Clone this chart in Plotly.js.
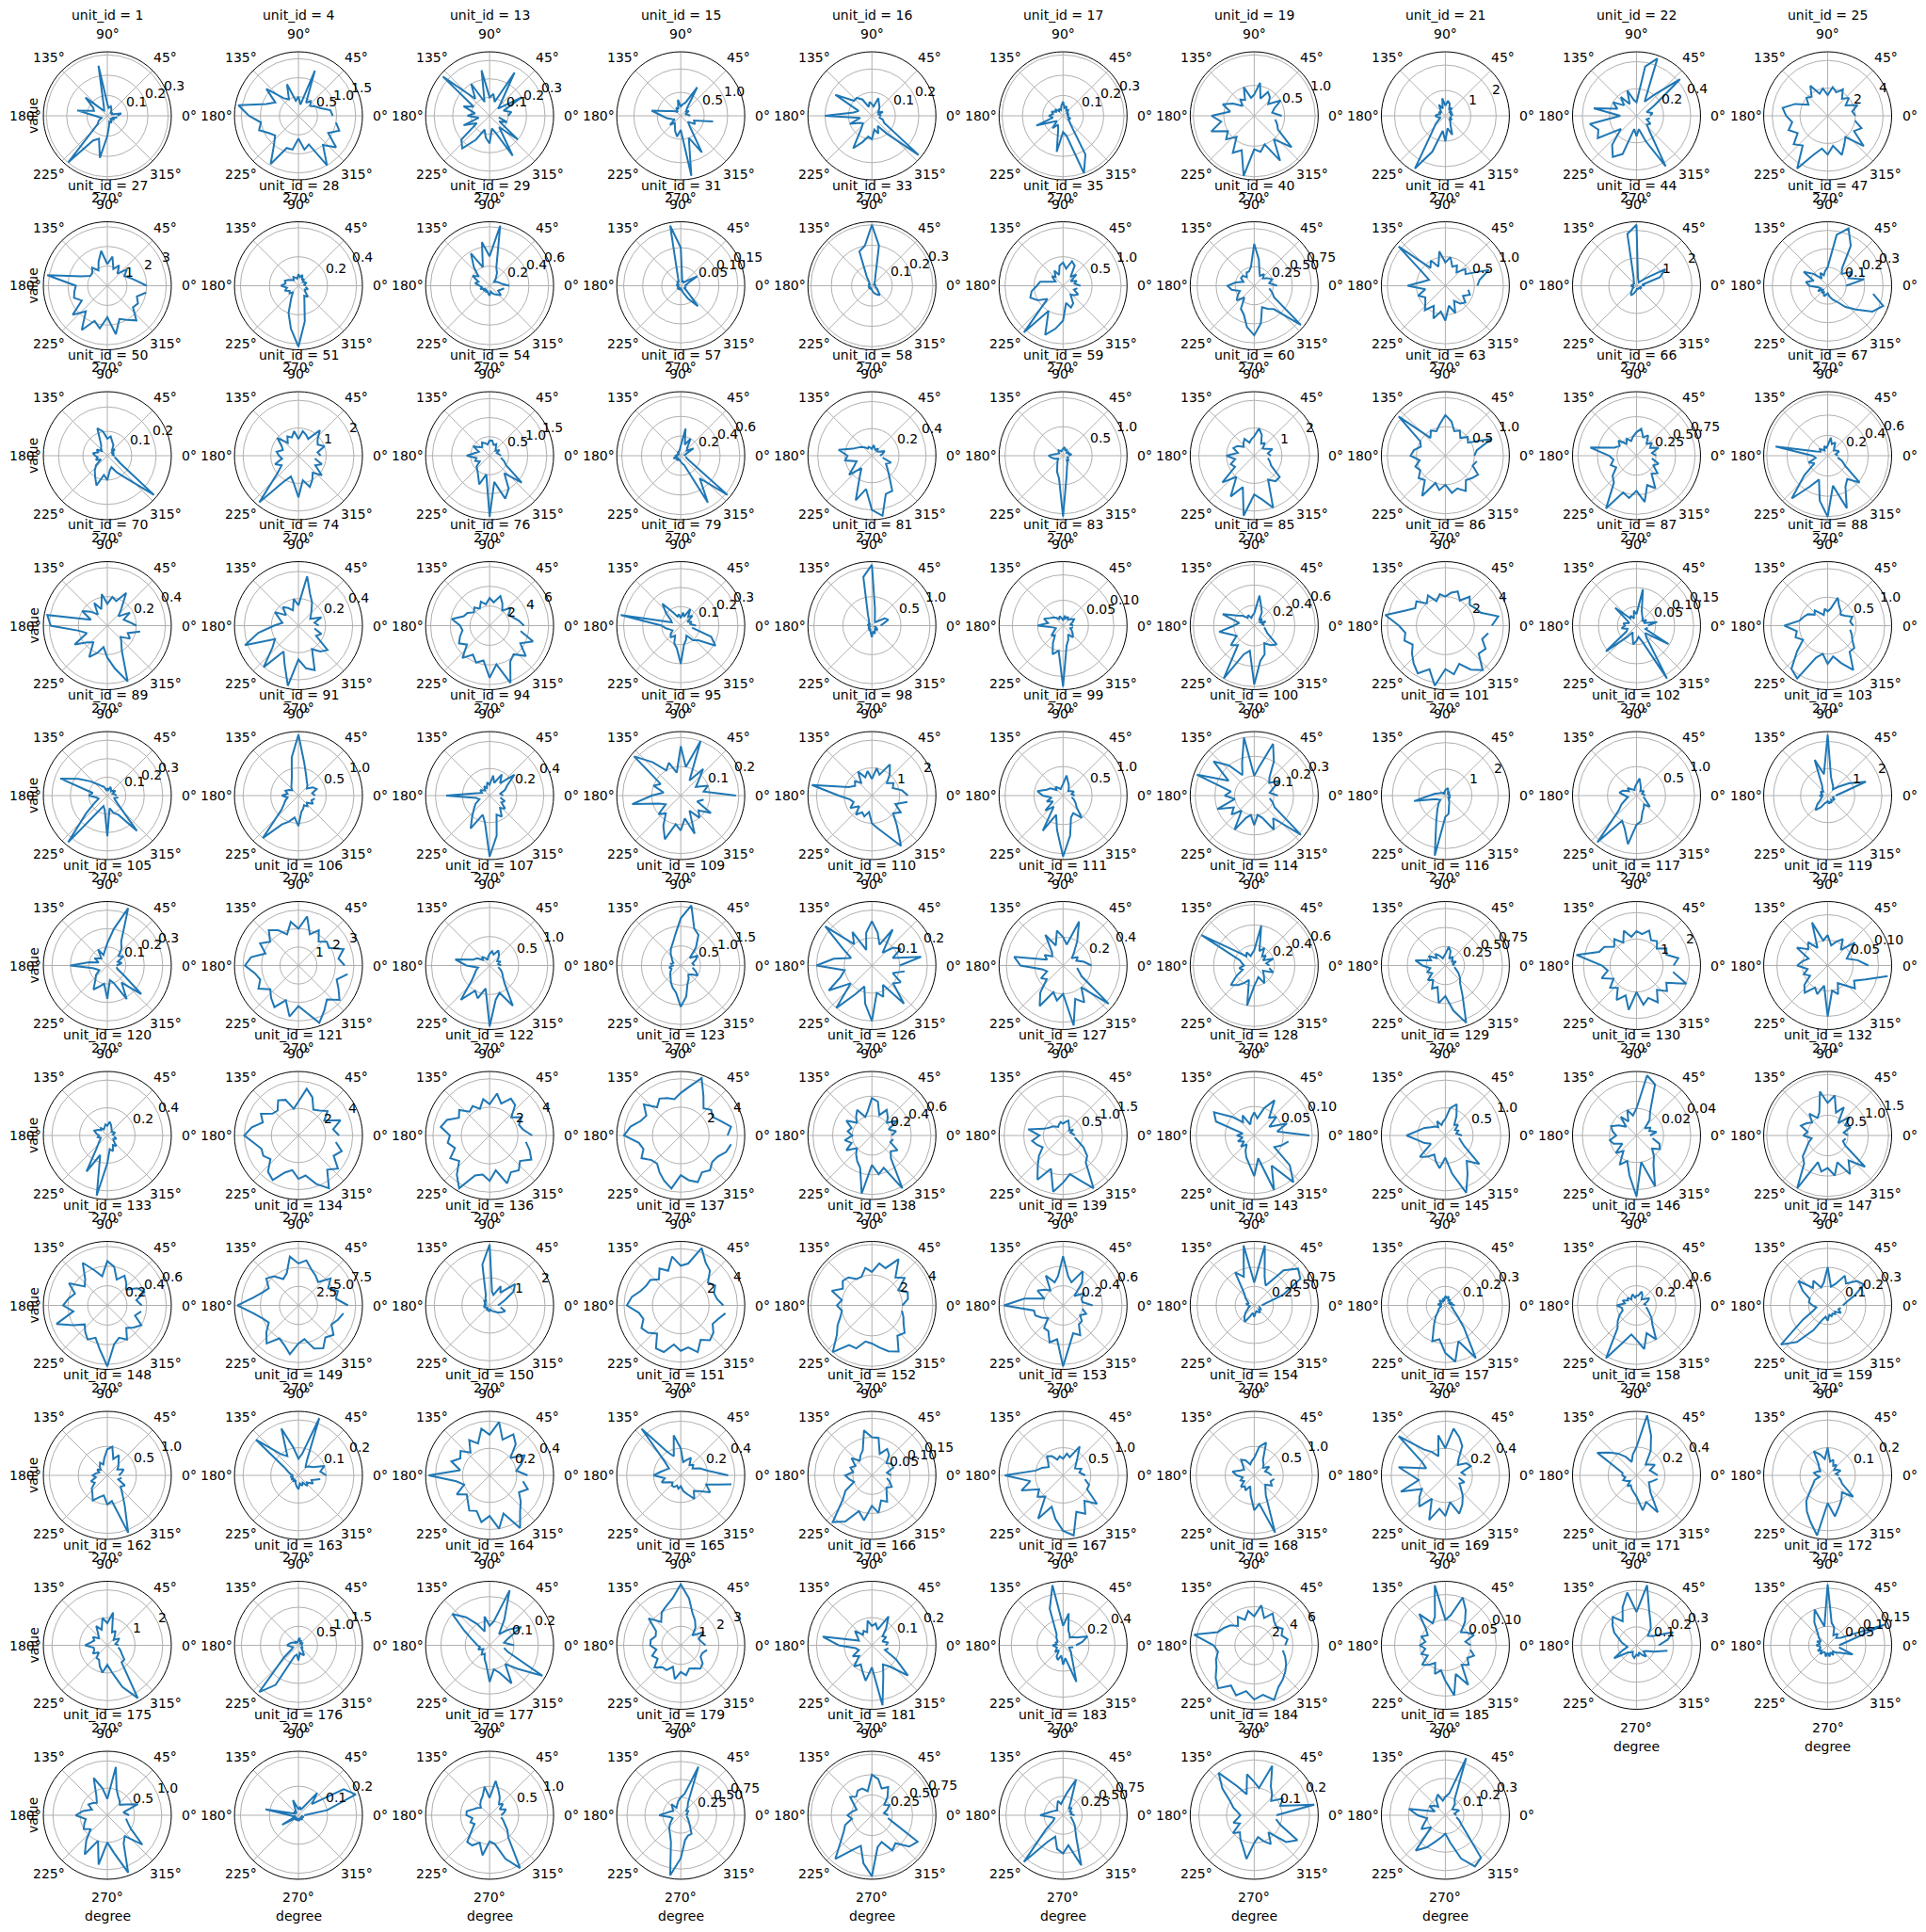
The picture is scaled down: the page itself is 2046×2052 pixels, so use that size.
<!DOCTYPE html>
<html><head><meta charset="utf-8">
<script src="https://cdn.plot.ly/plotly-3.0.1.min.js"></script>
<style>html,body{margin:0;padding:0;background:#fff;}#chart{width:2046px;height:2052px;}</style>
</head><body><div id="chart"></div>
<script>
const unitIds=[1,4,13,15,16,17,19,21,22,25,27,28,29,31,33,35,40,41,44,47,50,51,54,57,58,59,60,63,66,67,70,74,76,79,81,83,85,86,87,88,89,91,94,95,98,99,100,101,102,103,105,106,107,109,110,111,114,116,117,119,120,121,122,123,126,127,128,129,130,132,133,134,136,137,138,139,143,145,146,147,148,149,150,151,152,153,154,157,158,159,162,163,164,165,166,167,168,169,171,172,175,176,177,179,181,183,184,185];
const degrees=[0,10,20,30,40,50,60,70,80,90,100,110,120,130,140,150,160,170,180,190,200,210,220,230,240,250,260,270,280,290,300,310,320,330,340,350];
const angleTickVals=[0,45,90,135,180,225,270,315];
const angleTickText=["0°","45°","90°","135°","180°","225°","270°","315°"];
const radialTicks=[
["0.1","0.2","0.3"],["0.5","1.0","1.5"],["0.1","0.2","0.3"],["0.5","1.0"],["0.1","0.2"],["0.1","0.2","0.3"],["0.5","1.0"],["1","2"],["0.2","0.4"],["2","4"],
["1","2","3"],["0.2","0.4"],["0.2","0.4","0.6"],["0.05","0.10","0.15"],["0.1","0.2","0.3"],["0.5","1.0"],["0.25","0.50","0.75"],["0.5","1.0"],["1","2"],["0.1","0.2","0.3"],
["0.1","0.2"],["1","2"],["0.5","1.0","1.5"],["0.2","0.4","0.6"],["0.2","0.4"],["0.5","1.0"],["1","2"],["0.5","1.0"],["0.25","0.50","0.75"],["0.2","0.4","0.6"],
["0.2","0.4"],["0.2","0.4"],["2","4","6"],["0.1","0.2","0.3"],["0.5","1.0"],["0.05","0.10"],["0.2","0.4","0.6"],["2","4"],["0.05","0.10","0.15"],["0.5","1.0"],
["0.1","0.2","0.3"],["0.5","1.0"],["0.2","0.4"],["0.1","0.2"],["1","2"],["0.5","1.0"],["0.1","0.2","0.3"],["1","2"],["0.5","1.0"],["1","2"],
["0.1","0.2","0.3"],["1","2","3"],["0.5","1.0"],["0.5","1.0","1.5"],["0.1","0.2"],["0.2","0.4"],["0.2","0.4","0.6"],["0.25","0.50","0.75"],["1","2"],["0.05","0.10"],
["0.2","0.4"],["2","4"],["2","4"],["2","4"],["0.2","0.4","0.6"],["0.5","1.0","1.5"],["0.05","0.10"],["0.5","1.0"],["0.02","0.04"],["0.5","1.0","1.5"],
["0.2","0.4","0.6"],["2.5","5.0","7.5"],["1","2"],["2","4"],["2","4"],["0.2","0.4","0.6"],["0.25","0.50","0.75"],["0.1","0.2","0.3"],["0.2","0.4","0.6"],["0.1","0.2","0.3"],
["0.5","1.0"],["0.1","0.2"],["0.2","0.4"],["0.2","0.4"],["0.05","0.10","0.15"],["0.5","1.0"],["0.5","1.0"],["0.2","0.4"],["0.2","0.4"],["0.1","0.2"],
["1","2"],["0.5","1.0","1.5"],["0.1","0.2"],["1","2","3"],["0.1","0.2"],["0.2","0.4"],["2","4","6"],["0.05","0.10"],["0.1","0.2","0.3"],["0.05","0.10","0.15"],
["0.5","1.0"],["0.1","0.2"],["0.5","1.0"],["0.25","0.50","0.75"],["0.25","0.50","0.75"],["0.25","0.50","0.75"],["0.1","0.2"],["0.1","0.2","0.3"]];

const u1=[0.05,0.07,0.02,0.03,0.02,0.03,0.04,0.05,0.04,0.06,0.25,0.05,0.03,0.04,0.14,0.08,0.07,0.15,0.06,0.04,0.03,0.05,0.06,0.30,0.14,0.12,0.21,0.10,0.05,0.03,0.04,0.03,0.02,0.04,0.03,0.05];
const u4=[0.9,0.85,0.6,0.5,0.4,0.5,0.4,1.26,0.3,0.5,0.4,0.88,0.5,0.6,1.1,0.7,0.9,1.6,1.3,1.0,1.1,0.9,0.8,1.0,1.46,0.9,0.9,0.6,0.9,0.8,1.5,1.0,1.29,0.9,1.14,1.0];
const u13=[0.10,0.12,0.08,0.20,0.06,0.10,0.27,0.08,0.12,0.10,0.25,0.08,0.20,0.12,0.33,0.10,0.15,0.08,0.12,0.06,0.15,0.08,0.20,0.23,0.15,0.08,0.12,0.15,0.07,0.10,0.25,0.08,0.20,0.06,0.10,0.05];
const u15=[0.2,0.15,0.1,0.2,0.15,0.2,0.7,0.3,0.25,0.2,0.35,0.15,0.2,0.1,0.15,0.2,0.3,0.63,0.4,0.3,0.2,0.15,0.3,0.2,0.25,0.35,0.45,0.3,1.3,0.5,0.9,0.3,0.2,0.35,0.3,0.7];
const u16=[0.04,0.03,0.05,0.03,0.04,0.05,0.06,0.08,0.04,0.05,0.06,0.04,0.08,0.10,0.10,0.18,0.06,0.08,0.20,0.05,0.10,0.06,0.05,0.07,0.16,0.12,0.09,0.10,0.06,0.08,0.05,0.10,0.26,0.06,0.05,0.03];
const u17=[0.03,0.02,0.03,0.02,0.03,0.04,0.03,0.05,0.04,0.07,0.05,0.03,0.04,0.03,0.05,0.04,0.06,0.05,0.07,0.05,0.14,0.06,0.04,0.08,0.05,0.07,0.18,0.08,0.10,0.30,0.22,0.06,0.04,0.03,0.04,0.02];
const u19=[0.45,0.3,0.35,0.5,0.3,0.4,0.45,0.3,0.55,0.35,0.3,0.5,0.3,0.35,0.25,0.4,0.55,0.4,0.7,0.55,0.75,0.5,0.6,0.45,0.7,0.6,1.0,0.55,0.6,0.5,0.85,0.5,0.8,0.45,0.4,0.35];
const u21=[0.2,0.3,0.2,0.3,0.2,0.4,0.3,0.5,0.6,0.4,0.7,0.3,0.5,0.3,0.2,0.3,0.2,0.3,0.4,0.3,0.2,0.3,0.5,0.8,2.4,1.5,0.6,1.0,0.5,0.8,0.4,0.3,0.2,0.3,0.2,0.25];
const u22=[0.1,0.12,0.08,0.15,0.42,0.2,0.12,0.45,0.37,0.1,0.12,0.2,0.1,0.18,0.12,0.2,0.15,0.32,0.12,0.35,0.3,0.33,0.15,0.28,0.35,0.3,0.1,0.15,0.1,0.2,0.43,0.15,0.1,0.12,0.08,0.1];
const u25=[2.0,1.8,2.3,1.5,2.0,1.6,2.2,1.8,2.1,1.5,2.0,1.7,2.5,1.8,2.0,1.6,2.5,3.3,3.0,2.6,3.0,2.5,3.2,2.8,4.4,3.0,2.4,2.8,2.2,3.0,2.4,2.0,3.4,2.2,2.6,2.0];
const u27=[2.0,1.5,1.2,1.0,1.3,0.8,1.2,0.9,1.5,1.1,1.8,1.3,0.9,1.2,1.0,1.0,1.4,3.1,1.6,1.7,1.8,1.5,2.3,1.7,2.6,1.9,2.2,1.6,2.5,1.8,2.0,2.3,1.7,1.8,1.6,2.0];
const u28=[0.05,0.04,0.06,0.05,0.04,0.06,0.05,0.08,0.06,0.08,0.05,0.06,0.07,0.05,0.06,0.08,0.10,0.09,0.12,0.08,0.10,0.07,0.08,0.06,0.10,0.20,0.30,0.42,0.25,0.12,0.08,0.10,0.06,0.05,0.07,0.05];
const u29=[0.2,0.12,0.1,0.08,0.06,0.1,0.15,0.2,0.62,0.3,0.45,0.2,0.38,0.25,0.15,0.2,0.12,0.15,0.1,0.08,0.1,0.06,0.08,0.05,0.07,0.06,0.08,0.1,0.06,0.08,0.1,0.12,0.15,0.1,0.12,0.15];
const u31=[0.01,0.015,0.02,0.05,0.02,0.01,0.015,0.01,0.02,0.1,0.16,0.02,0.01,0.015,0.01,0.01,0.005,0.01,0.01,0.005,0.01,0.005,0.01,0.01,0.005,0.01,0.01,0.005,0.01,0.02,0.04,0.07,0.02,0.01,0.015,0.01];
const u33=[0.02,0.015,0.02,0.01,0.015,0.02,0.03,0.05,0.2,0.30,0.2,0.18,0.05,0.02,0.015,0.01,0.02,0.01,0.015,0.01,0.02,0.01,0.015,0.02,0.01,0.02,0.015,0.02,0.03,0.04,0.05,0.06,0.04,0.03,0.02,0.015];
const u35=[0.3,0.2,0.25,0.15,0.3,0.2,0.4,0.45,0.3,0.4,0.35,0.2,0.3,0.2,0.25,0.15,0.2,0.4,0.45,0.55,0.6,0.5,0.35,1.05,0.5,0.9,0.75,0.6,0.3,0.4,0.35,0.2,0.25,0.3,0.2,0.25];
const u40=[0.3,0.2,0.25,0.2,0.15,0.2,0.15,0.2,0.35,0.55,0.25,0.2,0.2,0.15,0.2,0.2,0.15,0.25,0.35,0.3,0.2,0.25,0.3,0.2,0.35,0.4,0.55,0.65,0.5,0.3,0.35,0.4,0.8,0.3,0.25,0.2];
const u41=[0.55,0.6,0.8,0.4,0.45,0.3,0.4,0.35,0.5,0.4,0.6,0.35,0.5,0.4,1.05,0.45,0.3,0.4,0.65,0.35,0.5,0.4,0.45,0.55,0.4,0.6,0.45,0.6,0.35,0.5,0.3,0.4,0.45,0.35,0.45,0.4];
const u44=[0.3,0.2,0.9,1.2,0.4,0.2,0.15,0.2,0.3,2.2,1.9,0.3,0.2,0.15,0.1,0.15,0.1,0.15,0.2,0.15,0.1,0.15,0.2,0.3,0.4,0.3,0.2,0.15,0.1,0.15,0.1,0.15,0.1,0.2,0.15,0.2];
const u47=[0.1,0.2,0.12,0.15,0.1,0.12,0.25,0.33,0.28,0.1,0.08,0.06,0.08,0.05,0.1,0.15,0.08,0.12,0.1,0.05,0.04,0.06,0.03,0.05,0.04,0.06,0.05,0.04,0.06,0.08,0.1,0.15,0.2,0.28,0.32,0.25];
const u50=[0.03,0.02,0.03,0.02,0.04,0.03,0.05,0.06,0.08,0.07,0.10,0.12,0.05,0.04,0.03,0.05,0.04,0.06,0.05,0.04,0.05,0.03,0.06,0.08,0.10,0.13,0.08,0.10,0.06,0.05,0.08,0.12,0.25,0.06,0.04,0.03];
const u51=[0.8,0.7,1.0,0.8,0.9,1.2,0.7,0.8,0.9,0.6,0.9,0.7,0.8,0.6,1.0,0.7,0.6,0.8,0.7,0.6,0.9,0.7,1.0,2.2,1.1,0.8,1.0,1.5,0.9,1.2,1.0,0.8,1.1,0.7,0.9,0.6];
const u54=[0.3,0.25,0.2,0.3,0.2,0.25,0.35,0.3,0.4,0.4,0.3,0.35,0.4,0.3,0.35,0.5,0.3,0.4,0.6,0.35,0.4,0.3,0.45,0.5,0.6,0.8,0.5,1.6,0.7,1.2,1.0,0.6,1.1,0.5,0.4,0.3];
const u57=[0.05,0.04,0.06,0.15,0.08,0.1,0.2,0.12,0.28,0.1,0.06,0.05,0.04,0.05,0.03,0.04,0.03,0.04,0.05,0.04,0.08,0.05,0.04,0.06,0.05,0.04,0.05,0.06,0.08,0.1,0.55,0.3,0.62,0.1,0.06,0.05];
const u58=[0.06,0.08,0.1,0.06,0.05,0.07,0.05,0.06,0.08,0.05,0.06,0.07,0.06,0.08,0.1,0.12,0.15,0.25,0.18,0.2,0.12,0.15,0.22,0.12,0.18,0.35,0.25,0.4,0.45,0.3,0.3,0.2,0.15,0.12,0.15,0.08];
const u59=[0.1,0.15,0.1,0.12,0.08,0.1,0.12,0.1,0.15,0.12,0.1,0.08,0.1,0.12,0.1,0.08,0.1,0.15,0.25,0.2,0.15,0.1,0.12,0.15,0.2,0.3,0.4,1.05,0.35,0.2,0.15,0.1,0.12,0.1,0.08,0.1];
const u60=[0.6,0.5,0.7,0.5,0.4,0.6,0.5,0.8,1.0,0.7,0.6,0.5,0.7,0.6,0.5,0.7,0.8,0.6,1.0,0.7,0.9,0.8,1.5,1.0,1.7,1.2,2.2,1.4,1.6,2.0,1.0,1.2,1.2,0.7,0.6,0.5];
const u63=[0.5,0.55,0.85,0.45,0.5,0.4,0.5,0.45,0.6,0.7,0.55,0.45,0.5,0.4,1.05,0.5,0.45,0.55,0.6,0.45,0.55,0.5,0.6,0.55,0.8,0.5,0.6,0.5,0.65,0.6,0.7,0.55,0.6,0.65,0.5,0.55];
const u66=[0.25,0.2,0.3,0.2,0.25,0.2,0.3,0.25,0.35,0.3,0.25,0.2,0.25,0.2,0.3,0.25,0.3,0.6,0.35,0.3,0.35,0.3,0.4,0.45,0.78,0.5,0.55,0.45,0.6,0.4,0.48,0.3,0.35,0.25,0.3,0.2];
const u67=[0.1,0.08,0.12,0.1,0.08,0.1,0.15,0.12,0.18,0.1,0.08,0.1,0.06,0.08,0.1,0.08,0.12,0.52,0.15,0.12,0.2,0.15,0.3,0.55,0.35,0.25,0.45,0.6,0.3,0.55,0.35,0.3,0.41,0.2,0.15,0.1];
const u70=[0.2,0.15,0.12,0.18,0.1,0.15,0.26,0.18,0.2,0.15,0.22,0.12,0.18,0.1,0.15,0.2,0.12,0.42,0.39,0.2,0.15,0.26,0.18,0.15,0.25,0.2,0.15,0.22,0.3,0.41,0.2,0.15,0.12,0.18,0.15,0.23];
const u74=[0.15,0.12,0.18,0.1,0.12,0.15,0.2,0.25,0.37,0.15,0.2,0.12,0.15,0.18,0.12,0.2,0.15,0.12,0.18,0.3,0.42,0.2,0.25,0.4,0.22,0.3,0.45,0.25,0.32,0.35,0.2,0.25,0.28,0.15,0.18,0.12];
const u76=[3.5,3.0,2.5,2.2,2.8,2.0,2.6,3.2,2.4,2.8,2.2,2.6,2.0,2.4,2.1,2.6,2.8,3.9,3.0,2.8,3.2,3.6,3.0,4.3,3.4,4.0,3.6,5.3,4.0,6.2,4.2,3.8,4.8,3.6,4.7,3.2];
const u79=[0.08,0.05,0.06,0.04,0.08,0.06,0.1,0.05,0.07,0.04,0.06,0.05,0.08,0.15,0.1,0.06,0.05,0.32,0.1,0.08,0.06,0.05,0.07,0.08,0.06,0.1,0.12,0.2,0.1,0.08,0.06,0.1,0.12,0.21,0.17,0.06];
const u81=[0.15,0.2,0.3,0.25,0.1,0.08,0.1,0.15,0.3,1.05,0.85,0.2,0.1,0.08,0.05,0.06,0.05,0.08,0.06,0.05,0.04,0.06,0.08,0.05,0.1,0.08,0.12,0.2,0.1,0.15,0.1,0.08,0.12,0.1,0.06,0.08];
const u83=[0.02,0.015,0.02,0.025,0.02,0.015,0.02,0.015,0.02,0.01,0.015,0.02,0.015,0.02,0.025,0.03,0.04,0.03,0.05,0.02,0.015,0.02,0.03,0.025,0.04,0.06,0.05,0.12,0.04,0.03,0.02,0.03,0.025,0.02,0.015,0.02];
const u85=[0.1,0.08,0.12,0.06,0.1,0.08,0.15,0.2,0.3,0.12,0.1,0.08,0.12,0.1,0.15,0.2,0.33,0.15,0.2,0.35,0.25,0.2,0.3,0.25,0.6,0.3,0.25,0.58,0.35,0.3,0.2,0.25,0.29,0.15,0.12,0.1];
const u86=[3.2,3.7,2.6,2.4,2.2,2.6,2.0,2.5,2.3,2.0,2.2,1.8,2.4,2.0,2.6,2.4,3.0,4.2,3.2,2.8,3.0,2.6,3.0,3.4,3.8,3.2,4.2,3.0,3.4,2.8,3.5,4.0,3.0,3.2,2.7,3.0];
const u87=[0.03,0.055,0.02,0.03,0.02,0.025,0.03,0.04,0.097,0.03,0.04,0.02,0.03,0.025,0.073,0.03,0.02,0.035,0.03,0.04,0.025,0.03,0.105,0.04,0.02,0.03,0.05,0.04,0.03,0.045,0.16,0.04,0.03,0.097,0.025,0.03];
const u88=[0.45,0.4,0.46,0.35,0.3,0.35,0.4,0.52,0.3,0.25,0.3,0.2,0.25,0.35,0.3,0.4,0.45,0.5,0.76,0.55,0.6,0.5,0.7,0.99,1.07,0.6,0.5,0.67,0.55,0.7,0.9,0.6,0.61,0.5,0.45,0.4];
const u89=[0.05,0.04,0.03,0.05,0.04,0.03,0.04,0.05,0.03,0.04,0.03,0.05,0.06,0.08,0.12,0.18,0.27,0.08,0.1,0.06,0.05,0.08,0.15,0.33,0.1,0.06,0.08,0.22,0.07,0.1,0.12,0.25,0.08,0.05,0.04,0.06];
const u91=[0.3,0.25,0.35,0.3,0.2,0.25,0.3,0.4,0.6,1.1,0.7,0.35,0.25,0.2,0.15,0.2,0.25,0.2,0.3,0.2,0.25,0.3,0.4,1.0,0.6,0.5,0.4,0.55,0.3,0.25,0.2,0.25,0.2,0.3,0.25,0.3];
const u94=[0.1,0.08,0.12,0.15,0.24,0.12,0.18,0.1,0.15,0.08,0.1,0.06,0.08,0.05,0.06,0.08,0.06,0.1,0.32,0.1,0.08,0.12,0.15,0.2,0.28,0.15,0.2,0.45,0.3,0.15,0.18,0.12,0.15,0.1,0.12,0.08];
const u95=[0.19,0.08,0.1,0.06,0.08,0.12,0.06,0.2,0.1,0.17,0.08,0.12,0.1,0.15,0.21,0.08,0.1,0.06,0.1,0.17,0.08,0.06,0.1,0.08,0.12,0.16,0.1,0.12,0.08,0.14,0.06,0.1,0.08,0.12,0.06,0.08];
const u98=[1.3,1.1,0.8,0.9,0.7,1.0,1.3,0.8,1.0,0.6,0.9,0.7,1.0,0.6,0.8,0.7,0.9,2.2,1.2,0.8,0.7,0.9,0.6,0.9,0.7,0.8,0.6,1.0,1.2,1.5,2.1,1.4,1.0,1.2,0.9,1.3];
const u99=[0.2,0.15,0.2,0.15,0.12,0.15,0.2,0.25,0.35,0.2,0.15,0.12,0.15,0.2,0.15,0.25,0.3,0.45,0.35,0.2,0.3,0.2,0.4,0.25,0.7,0.35,0.6,1.05,0.7,0.4,0.35,0.5,0.3,0.25,0.2,0.15];
const u100=[0.12,0.08,0.1,0.15,0.1,0.12,0.2,0.28,0.15,0.1,0.3,0.18,0.12,0.2,0.27,0.15,0.31,0.12,0.15,0.1,0.2,0.12,0.15,0.1,0.2,0.12,0.1,0.15,0.1,0.12,0.2,0.15,0.31,0.12,0.1,0.08];
const u101=[0.2,0.15,0.1,0.15,0.2,0.15,0.2,0.3,0.25,0.2,0.15,0.1,0.12,0.1,0.15,0.2,0.25,0.4,0.6,1.2,0.4,0.3,0.25,0.4,0.6,1.0,2.3,0.8,0.7,0.4,0.3,0.2,0.15,0.2,0.15,0.2];
const u102=[0.15,0.12,0.1,0.15,0.12,0.1,0.15,0.2,0.3,0.2,0.15,0.1,0.12,0.15,0.2,0.15,0.25,0.3,0.2,0.15,0.2,0.3,0.4,1.05,0.5,0.6,0.85,0.5,0.45,0.3,0.25,0.2,0.3,0.2,0.15,0.12];
const u103=[0.3,0.5,1.5,0.9,0.5,0.3,0.4,0.5,0.7,2.25,0.8,1.4,0.4,0.3,0.2,0.3,0.25,0.2,0.3,0.2,0.25,0.3,0.5,0.7,0.5,0.3,0.25,0.2,0.3,0.25,0.3,0.2,0.25,0.3,0.2,0.25];
const u105=[0.05,0.08,0.06,0.1,0.08,0.12,0.15,0.33,0.2,0.12,0.08,0.06,0.1,0.05,0.06,0.08,0.05,0.1,0.2,0.08,0.06,0.05,0.08,0.1,0.15,0.12,0.1,0.18,0.08,0.1,0.21,0.12,0.24,0.1,0.06,0.05];
const u106=[2.5,2.2,2.6,1.9,2.0,1.7,2.2,1.8,2.7,2.0,2.4,1.8,2.2,2.5,2.0,2.4,1.9,2.6,2.9,2.4,2.2,2.5,2.0,2.3,2.6,2.0,2.8,2.2,2.6,3.3,2.8,2.4,2.9,2.5,2.2,2.7];
const u107=[0.2,0.15,0.2,0.15,0.2,0.25,0.3,0.2,0.25,0.2,0.15,0.1,0.15,0.2,0.15,0.25,0.3,0.6,0.4,0.2,0.25,0.3,0.4,0.77,0.5,0.6,0.4,1.05,0.6,0.5,0.8,0.4,0.3,0.25,0.2,0.15];
const u109=[0.35,0.3,0.4,0.5,0.3,0.6,0.9,1.0,1.55,1.2,0.8,0.6,0.5,0.4,0.3,0.25,0.2,0.25,0.2,0.3,0.25,0.3,0.35,0.4,0.5,0.6,0.7,1.05,0.8,0.5,0.4,0.3,0.35,0.5,0.4,0.3];
const u110=[0.1,0.18,0.08,0.12,0.1,0.06,0.15,0.08,0.12,0.16,0.12,0.06,0.14,0.1,0.22,0.12,0.08,0.14,0.2,0.1,0.12,0.18,0.1,0.2,0.12,0.08,0.14,0.2,0.1,0.12,0.08,0.18,0.1,0.12,0.08,0.12];
const u111=[0.2,0.15,0.1,0.12,0.08,0.12,0.2,0.33,0.15,0.2,0.25,0.15,0.25,0.12,0.1,0.15,0.12,0.35,0.3,0.15,0.12,0.18,0.15,0.25,0.33,0.2,0.25,0.2,0.43,0.25,0.3,0.2,0.42,0.15,0.12,0.1];
const u114=[0.15,0.12,0.2,0.1,0.15,0.12,0.2,0.15,0.4,0.15,0.12,0.1,0.15,0.12,0.2,0.6,0.15,0.12,0.1,0.15,0.12,0.2,0.3,0.25,0.2,0.15,0.4,0.2,0.15,0.12,0.2,0.15,0.12,0.1,0.2,0.15];
const u116=[0.12,0.1,0.15,0.1,0.12,0.15,0.1,0.2,0.25,0.15,0.12,0.1,0.15,0.2,0.15,0.25,0.2,0.4,0.3,0.2,0.25,0.2,0.3,0.25,0.35,0.3,0.5,0.4,0.6,0.8,0.45,0.3,0.25,0.2,0.15,0.12];
const u117=[1.4,1.6,1.2,1.3,1.0,1.2,1.1,1.4,1.2,1.3,1.1,1.4,1.0,1.3,1.1,1.4,1.5,2.3,1.3,1.1,1.4,1.0,1.3,1.1,1.5,1.2,1.7,1.0,1.5,1.3,1.6,1.2,1.5,1.3,2.0,1.4];
const u119=[0.08,0.06,0.04,0.05,0.07,0.04,0.06,0.05,0.04,0.06,0.05,0.09,0.04,0.06,0.05,0.07,0.04,0.05,0.06,0.04,0.05,0.04,0.06,0.07,0.05,0.06,0.04,0.1,0.05,0.06,0.04,0.05,0.07,0.06,0.08,0.12];
const u120=[0.05,0.04,0.06,0.05,0.04,0.05,0.06,0.08,0.1,0.07,0.08,0.06,0.05,0.07,0.06,0.08,0.1,0.08,0.06,0.07,0.05,0.06,0.08,0.12,0.3,0.15,0.44,0.2,0.1,0.12,0.08,0.1,0.06,0.05,0.07,0.05];
const u121=[3.0,2.6,3.3,2.2,2.8,2.4,2.2,3.0,3.5,2.5,2.0,2.8,3.0,2.4,2.5,3.2,2.8,3.5,4.0,3.3,2.9,3.0,2.7,3.5,3.8,2.9,2.6,3.2,3.0,3.8,4.5,3.3,3.8,3.0,3.4,2.8];
const u122=[3.0,2.4,2.2,2.6,2.0,2.8,3.0,2.4,3.0,2.2,2.6,2.0,2.4,2.2,2.8,2.5,3.2,3.5,2.8,3.0,2.6,3.2,2.8,3.6,4.3,3.0,2.8,3.2,2.5,3.6,3.0,3.2,2.8,3.4,3.0,2.6];
const u123=[3.3,3.6,3.0,2.6,2.8,2.5,3.2,4.3,3.5,3.0,2.6,2.8,3.0,2.6,3.4,2.8,3.0,3.6,4.0,3.0,2.8,3.2,2.7,2.6,3.0,3.4,3.8,2.8,3.2,3.5,3.0,3.2,2.9,3.0,3.4,3.6];
const u126=[0.2,0.25,0.18,0.3,0.2,0.25,0.3,0.22,0.35,0.38,0.25,0.2,0.3,0.25,0.2,0.3,0.22,0.25,0.2,0.28,0.22,0.3,0.2,0.25,0.3,0.35,0.6,0.3,0.4,0.35,0.62,0.3,0.25,0.3,0.2,0.22];
const u127=[0.3,0.25,0.2,0.3,0.2,0.25,0.3,0.4,0.35,0.3,0.35,0.3,0.25,0.3,0.35,0.4,0.5,0.9,0.6,0.8,0.7,0.6,0.8,1.0,1.3,0.9,1.45,1.2,1.0,1.2,1.55,0.9,0.8,0.6,0.4,0.3];
const u128=[0.095,0.04,0.06,0.03,0.05,0.04,0.07,0.05,0.03,0.04,0.03,0.02,0.04,0.03,0.05,0.08,0.07,0.02,0.03,0.02,0.03,0.02,0.03,0.02,0.03,0.04,0.05,0.07,0.04,0.1,0.06,0.105,0.08,0.04,0.05,0.06];
const u129=[0.3,0.2,0.25,0.2,0.3,0.25,0.4,0.6,0.5,0.3,0.25,0.2,0.3,0.2,0.25,0.3,0.4,0.5,0.7,0.5,0.4,0.3,0.6,0.5,0.4,0.5,0.6,0.4,0.7,1.1,0.8,0.6,0.8,0.4,0.3,0.25];
const u130=[0.01,0.015,0.01,0.012,0.008,0.015,0.02,0.04,0.045,0.02,0.015,0.02,0.012,0.018,0.01,0.015,0.02,0.018,0.015,0.02,0.018,0.012,0.02,0.015,0.025,0.02,0.03,0.045,0.02,0.04,0.025,0.02,0.015,0.02,0.018,0.012];
const u132=[0.5,0.4,0.6,0.5,0.7,0.4,0.8,0.6,1.0,0.8,1.1,0.6,0.5,0.7,0.5,0.6,0.7,0.5,0.6,0.4,0.5,0.6,0.8,0.9,1.5,0.7,0.9,0.8,1.0,0.7,1.1,0.8,1.2,0.5,0.4,0.45];
const u133=[0.35,0.3,0.4,0.35,0.25,0.3,0.35,0.28,0.4,0.45,0.3,0.38,0.5,0.35,0.3,0.45,0.35,0.4,0.45,0.35,0.55,0.4,0.3,0.35,0.4,0.35,0.45,0.62,0.4,0.35,0.4,0.3,0.35,0.4,0.3,0.35];
const u134=[6.5,5.0,5.5,4.5,5.5,4.0,4.5,5.0,6.0,5.5,6.5,4.5,4.0,5.0,5.5,4.5,5.0,6.0,8.0,6.0,5.0,4.5,5.5,6.5,5.0,5.5,6.5,5.0,4.5,6.0,6.5,5.5,6.0,5.0,5.5,6.0];
const u136=[0.3,0.4,0.6,1.0,1.2,0.6,0.8,0.4,0.5,2.2,1.5,0.4,0.3,0.2,0.25,0.2,0.15,0.2,0.15,0.2,0.2,0.15,0.1,0.15,0.2,0.15,0.2,0.2,0.15,0.2,0.25,0.3,0.4,0.5,0.6,0.4];
const u137=[3.0,2.6,2.5,2.8,2.5,3.2,3.5,4.3,3.0,2.8,3.5,2.6,3.0,2.4,2.8,2.8,3.0,3.5,3.8,3.0,2.8,3.2,3.0,2.6,3.5,3.5,2.8,3.2,3.0,3.5,2.8,3.2,3.0,2.6,2.8,3.2];
const u138=[2.0,2.4,2.5,2.0,2.8,2.4,3.5,2.6,2.8,2.2,2.5,2.0,2.0,2.4,2.5,2.2,2.8,2.0,2.3,2.0,2.2,2.6,3.0,4.0,3.0,3.0,2.4,2.5,2.8,3.2,3.5,2.6,2.8,2.4,2.2,2.0];
const u139=[0.3,0.2,0.2,0.25,0.15,0.3,0.4,0.25,0.3,0.5,0.3,0.25,0.35,0.2,0.25,0.3,0.2,0.4,0.6,0.3,0.3,0.25,0.2,0.3,0.3,0.4,0.35,0.62,0.4,0.3,0.35,0.25,0.25,0.2,0.25,0.2];
const u143=[0.1,0.15,0.4,0.7,0.75,0.6,0.3,0.4,0.8,0.3,0.8,0.4,0.5,0.2,0.15,0.1,0.08,0.1,0.08,0.06,0.08,0.1,0.15,0.2,0.25,0.15,0.1,0.15,0.1,0.08,0.1,0.12,0.08,0.1,0.08,0.06];
const u145=[0.05,0.03,0.04,0.02,0.03,0.04,0.03,0.05,0.04,0.05,0.03,0.04,0.02,0.03,0.04,0.03,0.02,0.04,0.03,0.02,0.03,0.04,0.05,0.08,0.12,0.2,0.18,0.25,0.3,0.2,0.32,0.15,0.08,0.05,0.04,0.03];
const u146=[0.1,0.08,0.12,0.15,0.1,0.08,0.12,0.15,0.1,0.1,0.08,0.12,0.1,0.08,0.12,0.1,0.15,0.12,0.2,0.15,0.15,0.2,0.25,0.3,0.62,0.4,0.3,0.35,0.45,0.3,0.4,0.25,0.2,0.15,0.12,0.1];
const u147=[0.08,0.1,0.15,0.22,0.2,0.15,0.18,0.12,0.1,0.2,0.12,0.1,0.15,0.12,0.2,0.15,0.1,0.1,0.08,0.06,0.08,0.15,0.32,0.25,0.15,0.08,0.06,0.08,0.05,0.06,0.05,0.06,0.05,0.08,0.06,0.07];
const u148=[0.2,0.25,0.3,0.2,0.25,0.3,0.4,0.3,0.5,0.45,0.3,0.2,0.25,0.2,0.15,0.2,0.15,0.2,0.25,0.2,0.3,0.25,0.35,0.4,0.5,0.4,0.35,0.5,0.45,1.05,0.6,0.4,0.3,0.35,0.2,0.25];
const u149=[0.1,0.08,0.1,0.06,0.05,0.04,0.06,0.22,0.08,0.06,0.1,0.18,0.08,0.1,0.2,0.06,0.04,0.03,0.02,0.03,0.02,0.03,0.02,0.03,0.02,0.03,0.04,0.05,0.03,0.04,0.03,0.05,0.04,0.06,0.05,0.08];
const u150=[0.28,0.2,0.25,0.3,0.2,0.3,0.35,0.28,0.4,0.3,0.35,0.25,0.3,0.22,0.28,0.25,0.3,0.22,0.45,0.25,0.2,0.28,0.22,0.25,0.3,0.28,0.35,0.3,0.4,0.3,0.45,0.35,0.3,0.25,0.3,0.25];
const u151=[0.35,0.2,0.15,0.1,0.12,0.1,0.15,0.12,0.1,0.2,0.3,0.15,0.2,0.45,0.15,0.1,0.12,0.15,0.2,0.12,0.15,0.1,0.08,0.1,0.1,0.08,0.1,0.08,0.12,0.15,0.2,0.15,0.18,0.25,0.2,0.38];
const u152=[0.05,0.04,0.06,0.06,0.05,0.07,0.08,0.06,0.1,0.1,0.12,0.07,0.06,0.05,0.07,0.05,0.06,0.05,0.07,0.06,0.05,0.08,0.1,0.16,0.14,0.1,0.12,0.08,0.1,0.07,0.08,0.06,0.05,0.06,0.05,0.04];
const u153=[0.4,0.3,0.35,0.25,0.3,0.4,0.6,0.35,0.4,0.3,0.35,0.3,0.4,0.45,0.35,0.3,0.4,0.5,1.05,0.6,0.8,0.5,0.6,0.5,0.9,0.6,0.8,1.0,1.1,0.7,0.8,0.6,0.8,0.5,0.5,0.4];
const u154=[0.3,0.25,0.2,0.3,0.2,0.25,0.3,0.6,0.5,0.3,0.25,0.2,0.3,0.35,0.25,0.2,0.25,0.38,0.3,0.2,0.25,0.2,0.3,0.25,0.3,0.2,0.35,0.6,0.5,1.05,0.4,0.3,0.25,0.35,0.3,0.35];
const u157=[0.15,0.12,0.2,0.18,0.12,0.15,0.25,0.3,0.35,0.2,0.3,0.15,0.2,0.25,0.45,0.2,0.15,0.35,0.25,0.2,0.35,0.2,0.25,0.3,0.2,0.35,0.25,0.3,0.2,0.3,0.25,0.2,0.15,0.12,0.15,0.1];
const u158=[0.15,0.12,0.1,0.15,0.12,0.1,0.2,0.3,0.43,0.2,0.15,0.1,0.15,0.2,0.25,0.32,0.15,0.1,0.1,0.08,0.1,0.08,0.06,0.1,0.08,0.1,0.12,0.15,0.25,0.2,0.3,0.15,0.12,0.1,0.12,0.15];
const u159=[0.04,0.03,0.05,0.04,0.03,0.05,0.04,0.06,0.05,0.1,0.06,0.08,0.1,0.05,0.04,0.03,0.04,0.05,0.04,0.03,0.05,0.06,0.08,0.12,0.15,0.18,0.22,0.1,0.15,0.12,0.1,0.08,0.12,0.06,0.05,0.04];
const u162=[0.4,0.3,0.4,0.5,0.3,0.4,0.6,0.5,1.2,0.8,1.0,0.6,0.8,0.5,0.4,0.6,0.5,0.6,0.8,0.5,0.5,0.6,0.4,0.6,0.6,0.8,1.0,0.7,1.0,1.6,2.2,0.8,0.8,0.6,0.5,0.4];
const u163=[0.1,0.08,0.1,0.12,0.1,0.08,0.15,0.1,0.2,0.15,0.1,0.08,0.1,0.12,0.1,0.15,0.2,0.25,0.3,0.2,0.15,0.2,0.5,1.6,1.2,0.3,0.25,0.4,0.2,0.25,0.3,0.15,0.1,0.12,0.1,0.08];
const u164=[0.1,0.06,0.08,0.15,0.1,0.06,0.12,0.24,0.1,0.08,0.12,0.06,0.1,0.15,0.2,0.12,0.08,0.06,0.05,0.04,0.05,0.03,0.04,0.05,0.04,0.06,0.08,0.15,0.1,0.12,0.18,0.1,0.15,0.25,0.08,0.06];
const u165=[1.3,1.1,1.0,1.4,0.8,1.2,1.5,1.8,2.5,3.2,2.5,2.2,2.0,1.6,2.2,1.5,1.4,1.6,1.6,1.3,1.6,1.4,1.8,1.5,1.5,1.2,1.8,1.4,1.6,1.3,1.4,1.6,1.5,1.2,1.2,1.4];
const u166=[0.05,0.06,0.04,0.06,0.05,0.08,0.12,0.06,0.08,0.07,0.09,0.05,0.06,0.05,0.08,0.06,0.05,0.18,0.12,0.06,0.05,0.08,0.06,0.1,0.08,0.1,0.13,0.08,0.22,0.12,0.08,0.1,0.17,0.1,0.05,0.06];
const u167=[0.1,0.15,0.2,0.12,0.1,0.08,0.1,0.12,0.25,0.15,0.47,0.3,0.1,0.08,0.06,0.05,0.06,0.05,0.08,0.06,0.05,0.06,0.08,0.05,0.1,0.12,0.08,0.15,0.1,0.3,0.15,0.1,0.08,0.06,0.05,0.08];
const u168=[3.2,3.5,3.0,3.4,3.0,3.2,3.8,3.0,4.2,3.0,3.6,2.8,3.4,2.6,3.2,3.6,4.0,6.3,4.2,3.8,4.2,4.5,5.2,5.8,4.8,5.5,4.8,5.6,5.2,6.0,5.0,4.6,4.2,3.8,3.4,3.0];
const u169=[0.05,0.04,0.06,0.05,0.04,0.06,0.08,0.1,0.06,0.05,0.12,0.06,0.05,0.08,0.05,0.04,0.05,0.04,0.05,0.04,0.05,0.04,0.06,0.05,0.04,0.06,0.05,0.07,0.1,0.06,0.09,0.05,0.06,0.05,0.06,0.05];
const u171=[0.12,0.17,0.21,0.1,0.08,0.12,0.15,0.2,0.33,0.18,0.29,0.22,0.15,0.2,0.17,0.14,0.1,0.08,0.06,0.05,0.08,0.14,0.06,0.05,0.04,0.06,0.07,0.05,0.06,0.04,0.06,0.08,0.05,0.06,0.1,0.17];
const u172=[0.03,0.05,0.16,0.04,0.03,0.04,0.03,0.05,0.06,0.16,0.05,0.1,0.07,0.04,0.03,0.02,0.03,0.02,0.03,0.02,0.02,0.03,0.02,0.03,0.02,0.02,0.03,0.02,0.03,0.02,0.03,0.02,0.03,0.04,0.07,0.03];
const u175=[0.4,0.3,0.6,0.4,0.3,0.35,0.4,0.5,0.9,0.3,0.5,0.73,0.4,0.3,0.35,0.4,0.3,0.45,0.58,0.4,0.45,0.5,0.4,0.6,0.83,0.5,0.92,0.5,0.7,1.12,0.6,0.5,0.84,0.5,0.4,0.35];
const u176=[0.02,0.1,0.21,0.18,0.06,0.1,0.03,0.02,0.03,0.02,0.03,0.055,0.02,0.01,0.02,0.01,0.02,0.115,0.03,0.02,0.01,0.065,0.02,0.01,0.02,0.01,0.02,0.01,0.02,0.015,0.01,0.02,0.015,0.01,0.02,0.01];
const u177=[0.2,0.25,0.3,0.2,0.3,0.25,0.35,0.45,0.6,0.3,0.5,0.35,0.3,0.25,0.2,0.25,0.3,0.4,0.4,0.3,0.35,0.3,0.4,0.6,0.6,0.5,0.7,0.45,0.5,0.8,1.05,0.5,0.4,0.3,0.25,0.2];
const u179=[0.1,0.08,0.1,0.12,0.1,0.15,0.2,0.72,0.3,0.25,0.2,0.15,0.12,0.2,0.15,0.12,0.15,0.2,0.3,0.15,0.12,0.15,0.2,0.25,0.3,0.4,0.85,0.6,0.35,0.3,0.3,0.2,0.15,0.12,0.1,0.08];
const u181=[0.2,0.15,0.2,0.25,0.2,0.3,0.4,0.35,0.45,0.5,0.3,0.35,0.35,0.3,0.35,0.25,0.2,0.25,0.3,0.25,0.35,0.4,0.5,0.7,0.5,0.4,0.6,0.75,0.4,0.35,0.5,0.45,0.6,0.65,0.3,0.2];
const u183=[0.15,0.1,0.12,0.1,0.15,0.12,0.2,0.5,0.3,0.2,0.15,0.2,0.15,0.12,0.1,0.12,0.15,0.2,0.3,0.15,0.12,0.15,0.3,0.8,0.4,0.3,0.45,0.5,0.4,0.7,0.35,0.25,0.2,0.15,0.12,0.1];
const u184=[0.08,0.22,0.1,0.12,0.08,0.1,0.12,0.19,0.1,0.12,0.15,0.08,0.12,0.2,0.15,0.1,0.08,0.06,0.05,0.06,0.08,0.06,0.1,0.08,0.1,0.12,0.16,0.1,0.08,0.1,0.12,0.08,0.15,0.18,0.1,0.08];
const u185=[0.06,0.05,0.08,0.06,0.05,0.08,0.1,0.33,0.12,0.1,0.08,0.12,0.1,0.06,0.08,0.1,0.06,0.2,0.15,0.1,0.12,0.15,0.1,0.25,0.2,0.15,0.12,0.1,0.15,0.25,0.32,0.3,0.15,0.1,0.08,0.06];

const seriesByUnit=[u1,u4,u13,u15,u16,u17,u19,u21,u22,u25,u27,u28,u29,u31,u33,u35,u40,u41,u44,u47,u50,u51,u54,u57,u58,u59,u60,u63,u66,u67,u70,u74,u76,u79,u81,u83,u85,u86,u87,u88,u89,u91,u94,u95,u98,u99,u100,u101,u102,u103,u105,u106,u107,u109,u110,u111,u114,u116,u117,u119,u120,u121,u122,u123,u126,u127,u128,u129,u130,u132,u133,u134,u136,u137,u138,u139,u143,u145,u146,u147,u148,u149,u150,u151,u152,u153,u154,u157,u158,u159,u162,u163,u164,u165,u166,u167,u168,u169,u171,u172,u175,u176,u177,u179,u181,u183,u184,u185];

const W=2046,H=2052,NCOL=10,X0=114,DX=203.06,Y0=123,DY=180.5,RAD=68,LABR=87,RLAB=22.5;
const FONT={family:'DejaVu Sans, Verdana, sans-serif',size:14,color:'#000'};
const traces=[];
const layout={width:W,height:H,margin:{l:0,r:0,t:0,b:0},paper_bgcolor:'#fff',showlegend:false,annotations:[]};
function ann(text,px,py,opts){
  return Object.assign({text:text,x:px/W,y:1-py/H,xref:'paper',yref:'paper',xanchor:'center',yanchor:'middle',showarrow:false,font:FONT,borderpad:0},opts||{});
}
unitIds.forEach((id,i)=>{
  const row=Math.floor(i/NCOL),col=i%NCOL;
  const cx=X0+DX*col,cy=Y0+DY*row;
  const key=i===0?'polar':'polar'+(i+1);
  const vals=seriesByUnit[i];
  traces.push({type:'scatterpolar',r:vals,theta:degrees,mode:'lines',line:{color:'#1f77b4',width:2},subplot:key,hoverinfo:'skip',showlegend:false});
  const tv=radialTicks[i].map(Number);
  const rmax=Math.max(1.05*Math.max(...vals),tv[tv.length-1]*1.03);
  layout[key]={
    domain:{x:[(cx-RAD)/W,(cx+RAD)/W],y:[1-(cy+RAD)/H,1-(cy-RAD)/H]},
    bgcolor:'rgba(0,0,0,0)',
    radialaxis:{range:[0,rmax],tickmode:'array',tickvals:tv,showticklabels:false,angle:RLAB,showline:false,ticks:'',gridcolor:'#b0b0b0',gridwidth:1},
    angularaxis:{tickmode:'array',tickvals:angleTickVals,showticklabels:false,direction:'counterclockwise',rotation:0,showline:true,linecolor:'#000',linewidth:1,gridcolor:'#b0b0b0',gridwidth:1,ticks:''}
  };
  // angular tick labels, centred on a ring just outside the plot
  angleTickVals.forEach((a,k)=>{
    const t=a*Math.PI/180;
    layout.annotations.push(ann(angleTickText[k],cx+LABR*Math.cos(t),cy-LABR*Math.sin(t)));
  });
  // radial tick labels at 22.5°, left/bottom aligned like matplotlib
  const rl=RLAB*Math.PI/180;
  tv.forEach((v,k)=>{
    const rp=v/rmax*RAD;
    layout.annotations.push(ann(radialTicks[i][k],cx+rp*Math.cos(rl)-1,cy-rp*Math.sin(rl)+2,{xanchor:'left',yanchor:'bottom'}));
  });
  layout.annotations.push(ann('unit_id = '+id,cx,cy-107));
  if(col===0) layout.annotations.push(ann('value',35,cy,{textangle:-90}));
  if(i+NCOL>=unitIds.length) layout.annotations.push(ann('degree',cx,cy+107));
});
Plotly.newPlot('chart',traces,layout,{staticPlot:true,displayModeBar:false});
</script></body></html>
